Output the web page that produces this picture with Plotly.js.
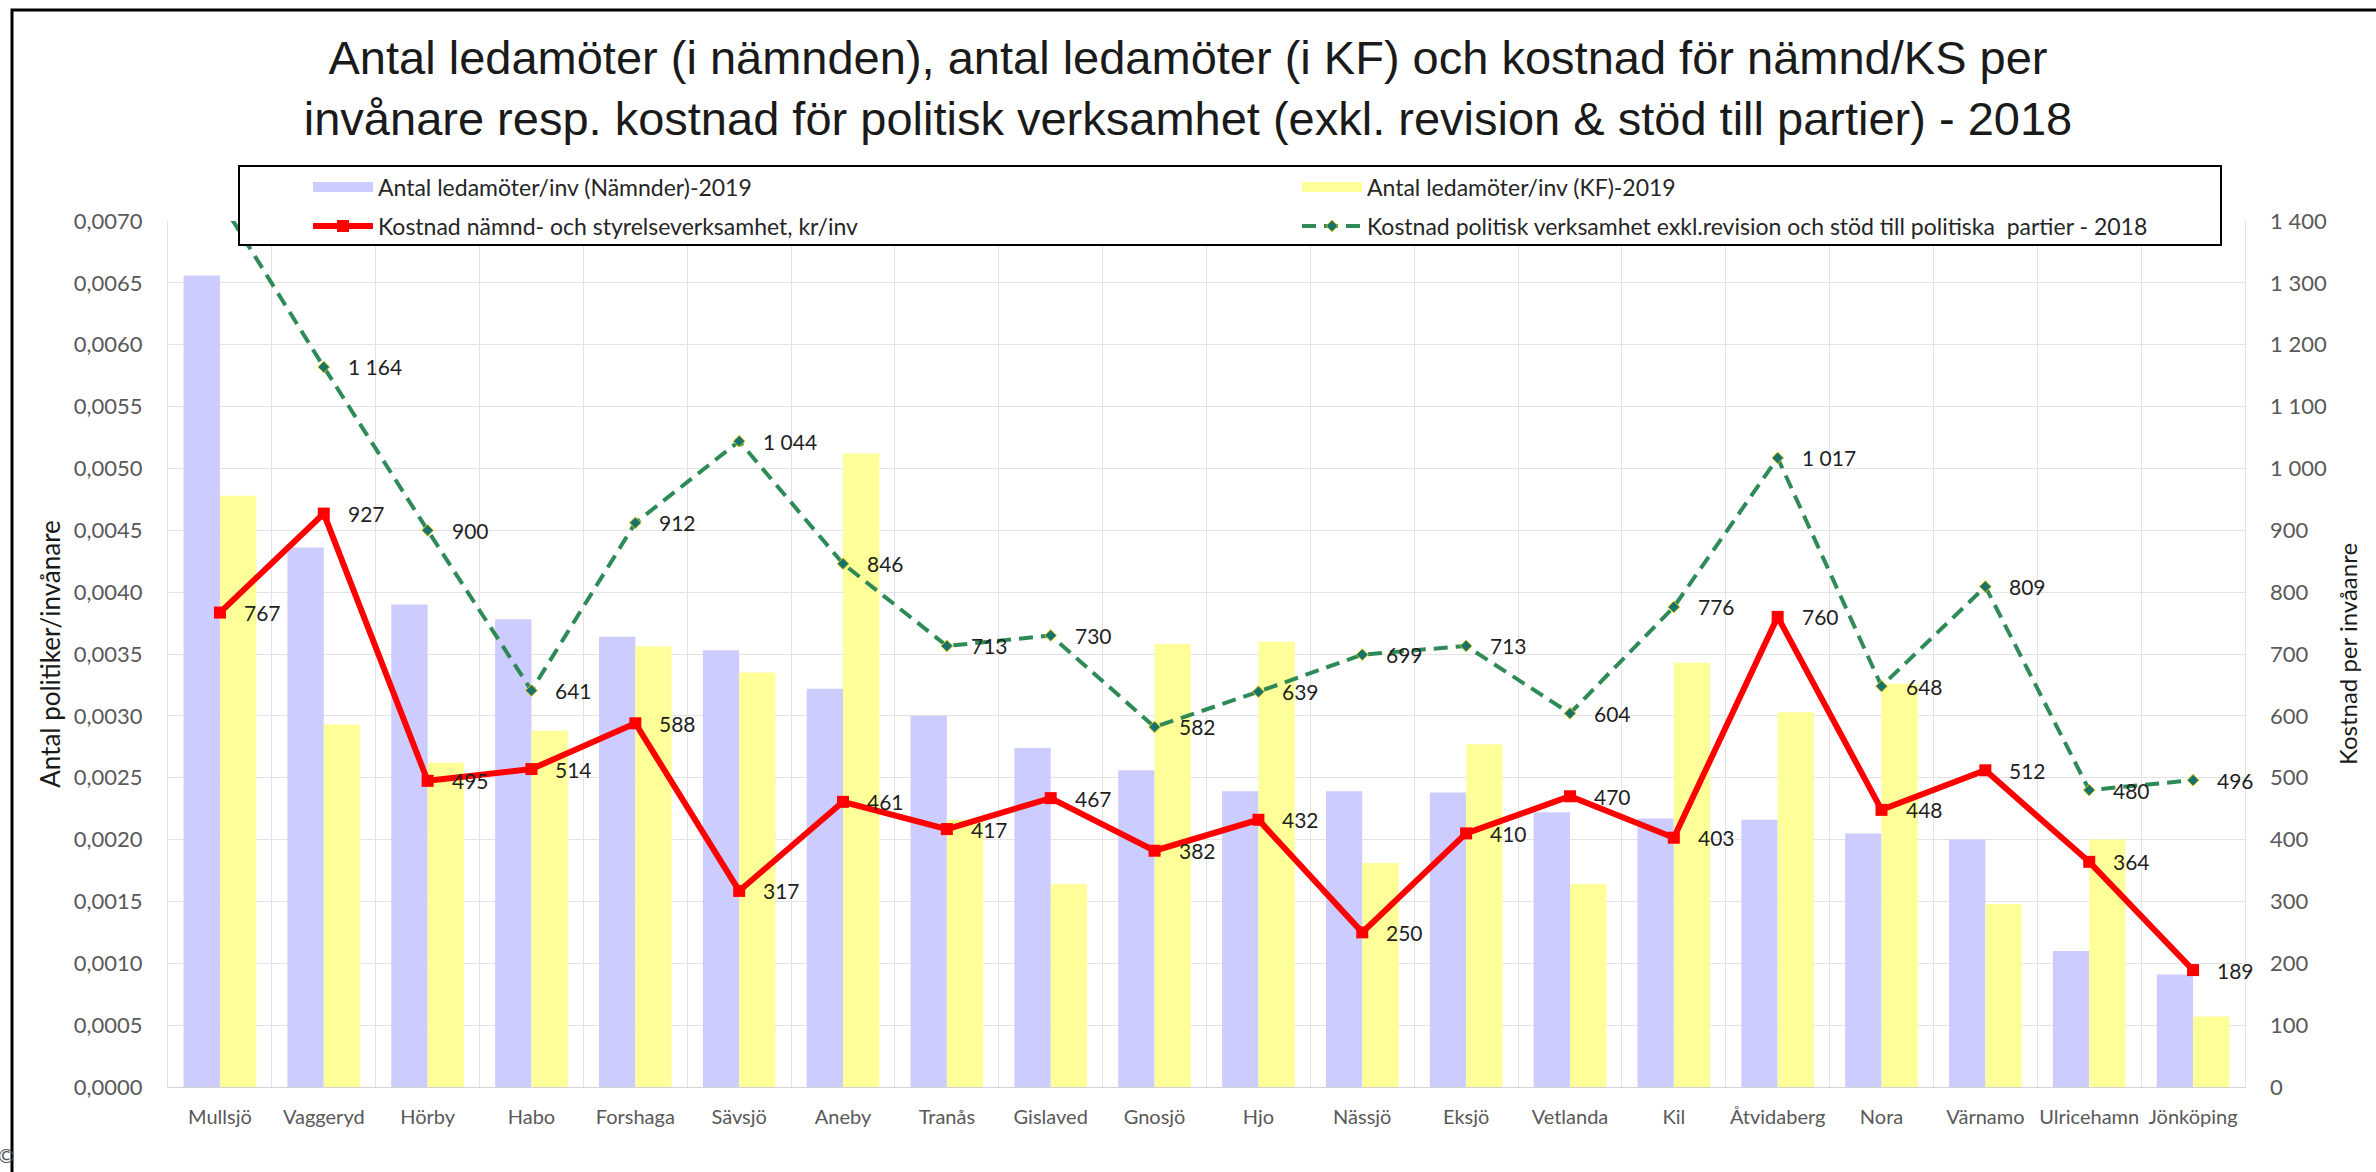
<!DOCTYPE html>
<html>
<head>
<meta charset="utf-8">
<script src="https://cdn.plot.ly/plotly-3.0.1.min.js"></script>
<style>
html,body{margin:0;padding:0;background:#ffffff;overflow:hidden}
#chart{width:2376px;height:1172px}
</style>
</head>
<body>
<div id="chart"></div>
<script>
// ---------------- DATA ----------------
const categories = ["Mullsjö","Vaggeryd","Hörby","Habo","Forshaga","Sävsjö","Aneby","Tranås","Gislaved","Gnosjö",
  "Hjo","Nässjö","Eksjö","Vetlanda","Kil","Åtvidaberg","Nora","Värnamo","Ulricehamn","Jönköping"];

const ledamoterNamnder = [0.00656,0.00436,0.00390,0.00378,0.00364,0.00353,0.00322,0.00300,0.00274,0.00256,
  0.00239,0.00239,0.00238,0.00222,0.00217,0.00216,0.00205,0.00200,0.00110,0.00091];

const ledamoterKF = [0.00478,0.00293,0.00262,0.00288,0.00356,0.00335,0.00512,0.00216,0.00164,0.00358,
  0.00360,0.00181,0.00277,0.00164,0.00343,0.00303,0.00326,0.00148,0.00200,0.00057];

const kostnadNamnd = [767,927,495,514,588,317,461,417,467,382,432,250,410,470,403,760,448,512,364,189];

const kostnadPolitisk = [1434,1164,900,641,912,1044,846,713,730,582,639,699,713,604,776,1017,648,809,480,496];

const seriesNames = [
  "Antal ledamöter/inv (Nämnder)-2019",
  "Antal ledamöter/inv (KF)-2019",
  "Kostnad nämnd- och styrelseverksamhet, kr/inv",
  "Kostnad politisk verksamhet exkl.revision och stöd till politiska  partier - 2018"
];

const titleLines = [
  "Antal ledamöter (i nämnden), antal ledamöter (i KF) och kostnad för nämnd/KS per",
  "invånare resp. kostnad för politisk verksamhet (exkl. revision & stöd till partier) - 2018"
];
const leftAxisTitle = "Antal politiker/invånare";
const rightAxisTitle = "Kostnad per invåanre";
const leftRange = [0, 0.007], leftStep = 0.0005;
const rightRange = [0, 1400], rightStep = 100;

// ---------------- LAYOUT HELPERS ----------------
const W = 2376, H = 1172;
const PL = 168, PR = 2245, PT = 221, PB = 1087;
const px2x = p => (p - PL) / (PR - PL);
const py2y = p => (PB - p) / (PB - PT);

const FONT = "Lato, 'Open Sans', sans-serif";
const COL_BLUE = "#CCCCFF", COL_YELLOW = "#FFFF99", COL_RED = "#FF0000", COL_GREEN = "#2E8B57";

function fmtNum(v){
  const s = String(Math.round(v));
  return s.replace(/\B(?=(\d{3})+(?!\d))/g, " ");
}

// ---------------- TRACES ----------------
const traces = [
  {type:"bar", x:categories, y:ledamoterNamnder, name:seriesNames[0], marker:{color:COL_BLUE}, showlegend:false, yaxis:"y"},
  {type:"bar", x:categories, y:ledamoterKF, name:seriesNames[1], marker:{color:COL_YELLOW}, showlegend:false, yaxis:"y"},
  {type:"scatter", mode:"lines+markers", x:categories, y:kostnadNamnd, yaxis:"y2", name:seriesNames[2],
    line:{color:COL_RED, width:6}, marker:{symbol:"square", size:12, color:COL_RED}, legend:"legend3", cliponaxis:true},
  {type:"scatter", mode:"lines+markers", x:categories, y:kostnadPolitisk, yaxis:"y2", name:seriesNames[3],
    line:{color:COL_GREEN, width:4, dash:"14px,8px"}, marker:{symbol:"diamond", size:9, color:"#18736E", line:{color:"#E0C800", width:1}},
    legend:"legend4", cliponaxis:true},
  // legend swatches for the bar series
  {type:"scatter", mode:"lines", x:[null], y:[null], yaxis:"y2", name:seriesNames[0], line:{color:COL_BLUE, width:14}, legend:"legend", hoverinfo:"skip"},
  {type:"scatter", mode:"lines", x:[null], y:[null], yaxis:"y2", name:seriesNames[1], line:{color:COL_YELLOW, width:14}, legend:"legend2", hoverinfo:"skip"}
];

// ---------------- ANNOTATIONS (data labels) ----------------
const labelFont = {family:FONT, size:21, color:"#1f1f1f"};
const annotations = [];
[kostnadNamnd, kostnadPolitisk].forEach(series => {
  series.forEach((v, i) => {
    if (v > rightRange[1]) return;
    annotations.push({x:categories[i], y:v, xref:"x", yref:"y2", text:fmtNum(v), showarrow:false,
      xanchor:"left", yanchor:"middle", xshift:22, font:labelFont});
  });
});
annotations.push({xref:"paper", yref:"paper", x:px2x(6), y:py2y(1155), text:"©", showarrow:false,
  xanchor:"center", yanchor:"middle", font:{family:FONT, size:20, color:"#595959"}});

const legendBase = {orientation:"h", itemwidth:60, bgcolor:"rgba(0,0,0,0)", borderwidth:0,
  xanchor:"left", yanchor:"middle", font:{family:FONT, size:23, color:"#262626"}, itemclick:false};

const layout = {
  width:W, height:H,
  margin:{l:PL, r:W-PR, t:PT, b:H-PB, pad:0},
  paper_bgcolor:"#ffffff", plot_bgcolor:"#ffffff",
  separators:", ",
  barmode:"group", bargap:0.3, bargroupgap:0,
  title:{text:titleLines.join("<br>"), x:0.5, xanchor:"center", y:1-74/H, yanchor:"middle",
    font:{family:"'Liberation Sans', Arial, sans-serif", size:47, color:"#1a1a1a"}},
  xaxis:{type:"category", range:[-0.5, categories.length-0.5], autorange:false, tickson:"boundaries", ticks:"",
    showgrid:true, gridcolor:"#E3E3E3", gridwidth:1,
    showline:true, linecolor:"#D4D4D4", linewidth:1, tickangle:0,
    tickfont:{family:FONT, size:20, color:"#595959"}, ticklabelstandoff:12, fixedrange:true},
  yaxis:{range:leftRange, dtick:leftStep, tick0:0, tickformat:".4f", showgrid:true, gridcolor:"#E3E3E3", gridwidth:1,
    zeroline:false, showline:true, mirror:true, linecolor:"#E3E3E3", ticks:"",
    tickfont:{family:FONT, size:22, color:"#595959"}, ticklabelstandoff:20,
    title:{text:leftAxisTitle, font:{family:FONT, size:26, color:"#1a1a1a"}, standoff:5}},
  yaxis2:{range:rightRange, dtick:rightStep, tick0:0, tickformat:",d", overlaying:"y", side:"right",
    showgrid:false, zeroline:false, ticks:"", tickfont:{family:FONT, size:22, color:"#595959"}, ticklabelstandoff:24,
    title:{text:rightAxisTitle, font:{family:FONT, size:24, color:"#1a1a1a"}, standoff:14}},
  legend:Object.assign({}, legendBase, {x:px2x(308), y:py2y(187)}),
  legend2:Object.assign({}, legendBase, {x:px2x(1297), y:py2y(187)}),
  legend3:Object.assign({}, legendBase, {x:px2x(308), y:py2y(226)}),
  legend4:Object.assign({}, legendBase, {x:px2x(1297), y:py2y(226)}),
  shapes:[
    {type:"rect", xref:"paper", yref:"paper", x0:px2x(239), x1:px2x(2221), y0:py2y(245), y1:py2y(166),
      fillcolor:"#ffffff", line:{color:"#000000", width:2}, layer:"above"},
    {type:"path", xref:"paper", yref:"paper",
      path:`M ${px2x(12)},${py2y(1250)} L ${px2x(12)},${py2y(10)} L ${px2x(2450)},${py2y(10)}`,
      line:{color:"#000000", width:3}, layer:"above"}
  ],
  annotations:annotations,
  showlegend:true,
  hovermode:false
};

Plotly.newPlot("chart", traces, layout, {staticPlot:true, displayModeBar:false});
</script>
</body>
</html>
